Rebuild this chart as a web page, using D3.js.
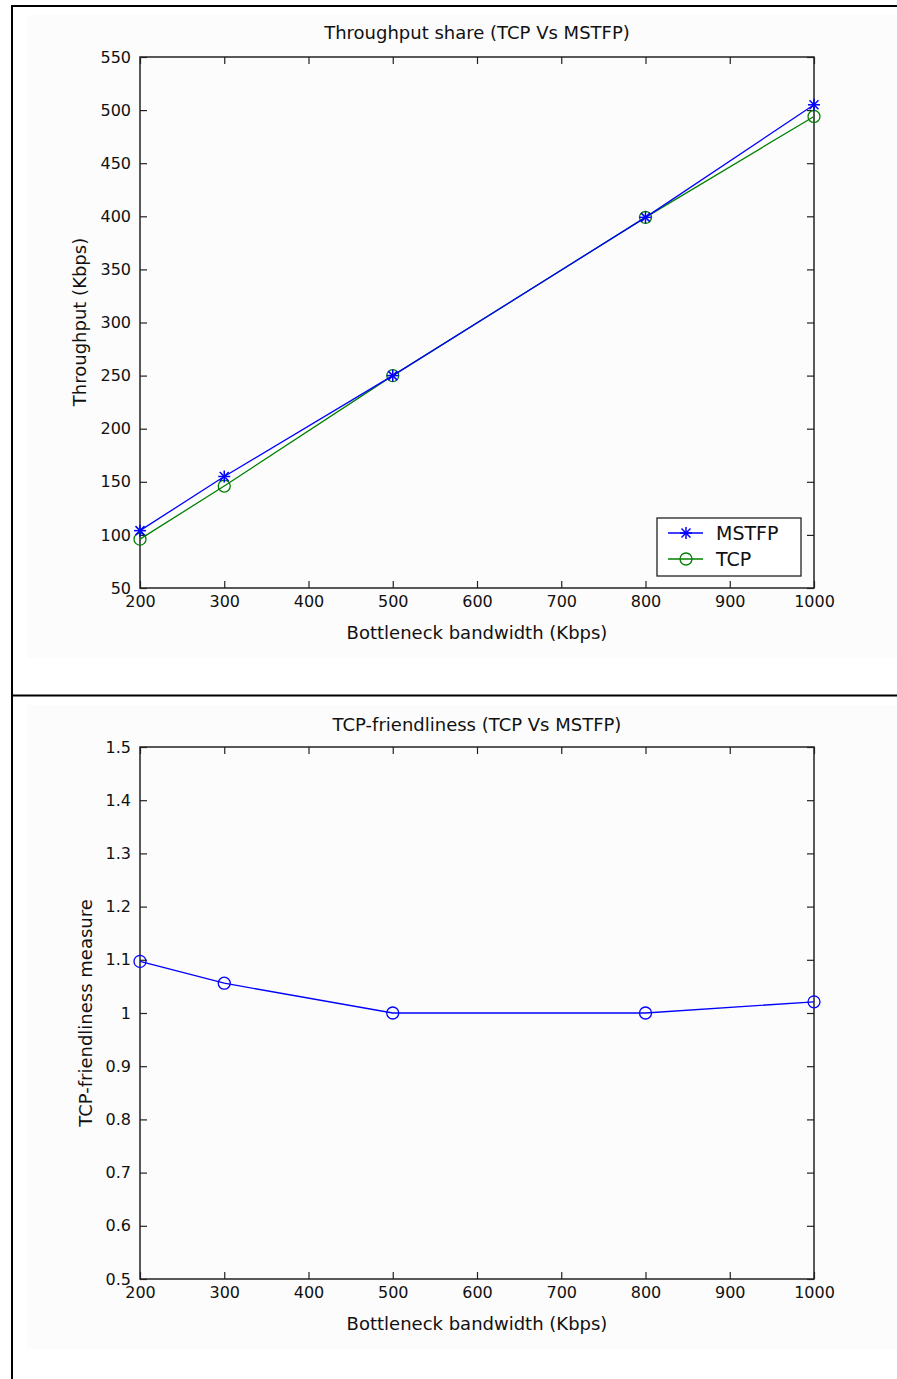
<!DOCTYPE html>
<html>
<head>
<meta charset="utf-8">
<script src="https://cdn.jsdelivr.net/npm/d3@7"></script>
<style>
  html, body { margin: 0; padding: 0; background: #ffffff; }
  svg { display: block; }
  text { font-family: "DejaVu Sans", Verdana, sans-serif; fill: #111; }
</style>
</head>
<body>
<svg id="fig" width="897" height="1379"></svg>
<script>
// Bottleneck bandwidth (Kbps)
const bandwidth = [200, 300, 500, 800, 1000];
// Throughput (Kbps) for each flow
const mstfpThroughput = [104, 155, 250, 399, 505];
const tcpThroughput = [96, 146, 250, 399, 494];
// TCP-friendliness measure
const friendliness = [1.097, 1.056, 1.0, 1.0, 1.021];

const xTicks = [200, 300, 400, 500, 600, 700, 800, 900, 1000];
const yTicksTop = [50, 100, 150, 200, 250, 300, 350, 400, 450, 500, 550];
const yTicksBottom = [0.5, 0.6, 0.7, 0.8, 0.9, 1.0, 1.1, 1.2, 1.3, 1.4, 1.5];

const svg = d3.select("#fig");
const TICK_FONT = 16;
const LABEL_FONT = 18;
const FAMILY = "'DejaVu Sans', Verdana, sans-serif";
const BLUE = "#0000ff", GREEN = "#008000", AXIS = "#222";

// page frame: table borders and the two figure backgrounds
svg.append("rect").attr("x", 27).attr("y", 15).attr("width", 870).attr("height", 643).attr("fill", "#fcfcfc");
svg.append("rect").attr("x", 27).attr("y", 705).attr("width", 870).attr("height", 644).attr("fill", "#fcfcfc");
svg.append("line").attr("x1", 12).attr("x2", 12).attr("y1", 5).attr("y2", 1379).attr("stroke", "#000").attr("stroke-width", 2);
svg.append("line").attr("x1", 11).attr("x2", 897).attr("y1", 6).attr("y2", 6).attr("stroke", "#000").attr("stroke-width", 2);
svg.append("line").attr("x1", 11).attr("x2", 897).attr("y1", 695.5).attr("y2", 695.5).attr("stroke", "#000").attr("stroke-width", 2);

function panel(cfg) {
  const g = svg.append("g");
  const x = d3.scaleLinear().domain([200, 1000]).range([cfg.left, cfg.right]);
  const y = d3.scaleLinear().domain(cfg.yDomain).range([cfg.bottom, cfg.top]);
  const tick = 7;

  // inward ticks on all four sides
  const axB = d3.axisBottom(x).tickValues(xTicks).tickSize(-tick).tickPadding(8).tickFormat(d3.format("d"));
  const axT = d3.axisTop(x).tickValues(xTicks).tickSize(-tick).tickFormat("");
  const axL = d3.axisLeft(y).tickValues(cfg.yTicks).tickSize(-tick).tickPadding(9).tickFormat(cfg.yFormat);
  const axR = d3.axisRight(y).tickValues(cfg.yTicks).tickSize(-tick).tickFormat("");

  const style = sel => {
    sel.select(".domain").remove();
    sel.selectAll("line").attr("stroke", AXIS).attr("stroke-width", 1.2);
    sel.selectAll("text").attr("font-size", TICK_FONT).attr("fill", "#111").attr("font-family", FAMILY);
  };
  g.append("g").attr("transform", `translate(0,${cfg.bottom})`).call(axB).call(style);
  g.append("g").attr("transform", `translate(0,${cfg.top})`).call(axT).call(style);
  g.append("g").attr("transform", `translate(${cfg.left},0)`).call(axL).call(style);
  g.append("g").attr("transform", `translate(${cfg.right},0)`).call(axR).call(style);

  g.append("rect").attr("x", cfg.left).attr("y", cfg.top)
    .attr("width", cfg.right - cfg.left).attr("height", cfg.bottom - cfg.top)
    .attr("fill", "none").attr("stroke", AXIS).attr("stroke-width", 1.5);

  g.append("text").attr("x", (cfg.left + cfg.right) / 2).attr("y", cfg.top - cfg.titleGap)
    .attr("text-anchor", "middle").attr("font-size", LABEL_FONT).text(cfg.title);
  g.append("text").attr("x", (cfg.left + cfg.right) / 2).attr("y", cfg.bottom + 51)
    .attr("text-anchor", "middle").attr("font-size", LABEL_FONT).text("Bottleneck bandwidth (Kbps)");
  g.append("text")
    .attr("transform", `translate(${cfg.ylabelX},${cfg.ylabelY}) rotate(-90)`)
    .attr("text-anchor", "middle").attr("font-size", LABEL_FONT).text(cfg.ylabel);

  return { g, x, y };
}

function drawSeries(p, values, color, marker) {
  const pts = bandwidth.map((b, i) => [p.x(b), p.y(values[i])]);
  p.g.append("path").attr("d", d3.line()(pts))
    .attr("fill", "none").attr("stroke", color).attr("stroke-width", 1.3);
  pts.forEach(([cx, cy]) => drawMarker(p.g, cx, cy, color, marker));
}

function drawMarker(g, cx, cy, color, marker) {
  if (marker === "circle") {
    g.append("circle").attr("cx", cx).attr("cy", cy).attr("r", 6)
      .attr("fill", "none").attr("stroke", color).attr("stroke-width", 1.3);
  } else {
    const r = 6;
    const s = g.append("g").attr("transform", `translate(${cx},${cy})`)
      .attr("stroke", color).attr("stroke-width", 1.5);
    s.append("line").attr("x1", -r).attr("x2", r).attr("y1", 0).attr("y2", 0);
    s.append("line").attr("x1", 0).attr("x2", 0).attr("y1", -r).attr("y2", r);
    const d = r * 0.75;
    s.append("line").attr("x1", -d).attr("x2", d).attr("y1", -d).attr("y2", d);
    s.append("line").attr("x1", -d).attr("x2", d).attr("y1", d).attr("y2", -d);
  }
}

// Throughput share panel
const throughputPanel = panel({
  left: 140, right: 814, top: 57, bottom: 588, titleGap: 18,
  yDomain: [50, 550], yTicks: yTicksTop, yFormat: d3.format("d"),
  title: "Throughput share (TCP Vs MSTFP)",
  ylabel: "Throughput (Kbps)", ylabelX: 86, ylabelY: 322
});
drawSeries(throughputPanel, tcpThroughput, GREEN, "circle");
drawSeries(throughputPanel, mstfpThroughput, BLUE, "star");

// legend
const lg = throughputPanel.g.append("g");
lg.append("rect").attr("x", 657).attr("y", 518).attr("width", 144).attr("height", 58)
  .attr("fill", "#fff").attr("stroke", AXIS).attr("stroke-width", 1.3);
[["MSTFP", BLUE, "star", 533], ["TCP", GREEN, "circle", 559]].forEach(([name, color, m, ly]) => {
  lg.append("line").attr("x1", 668).attr("x2", 703).attr("y1", ly).attr("y2", ly)
    .attr("stroke", color).attr("stroke-width", 1.3);
  drawMarker(lg, 686, ly, color, m);
  lg.append("text").attr("x", 716).attr("y", ly + 7).attr("font-size", 19).text(name);
});

// TCP-friendliness panel
const friendlinessPanel = panel({
  left: 140, right: 814, top: 747, bottom: 1279, titleGap: 16,
  yDomain: [0.5, 1.5], yTicks: yTicksBottom, yFormat: d => (d === 1 ? "1" : d3.format(".1f")(d)),
  title: "TCP-friendliness (TCP Vs MSTFP)",
  ylabel: "TCP-friendliness measure", ylabelX: 92, ylabelY: 1013
});
drawSeries(friendlinessPanel, friendliness, BLUE, "circle");
</script>
</body>
</html>
